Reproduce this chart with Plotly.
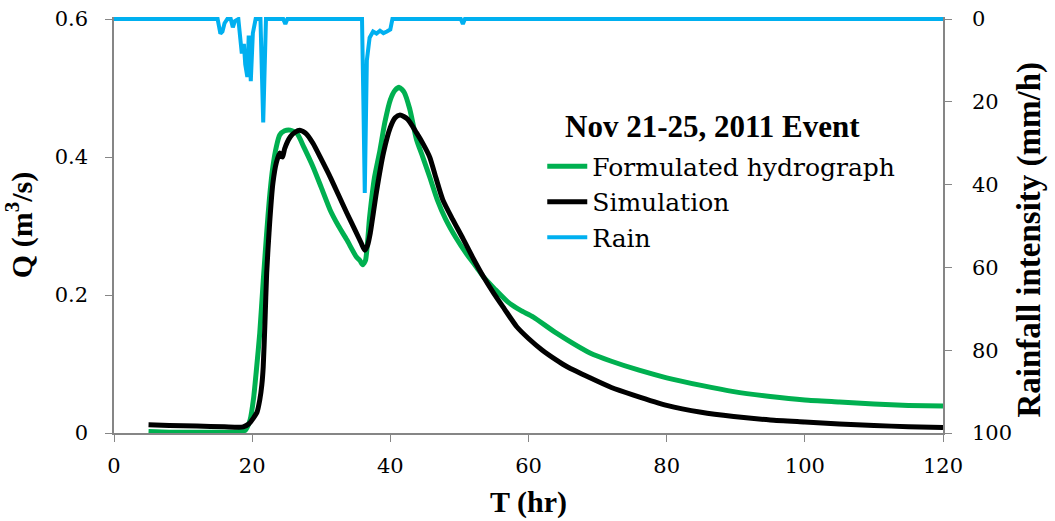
import plotly.graph_objects as go

# ---- data ----
t_sim = [5, 8, 12, 16, 18, 18.7, 19.5, 20.2, 20.7, 21.1, 21.4, 21.6, 21.85, 22.1, 22.5, 23.0, 23.5, 24.0, 24.4, 24.7, 25.5, 26.2, 26.9, 27.8, 28.8, 30.0, 31.3, 32.5, 33.7, 35.0, 35.8, 36.3, 36.7, 37.1, 38.0, 39.0, 40.0, 40.7, 41.4, 42.5, 43.8, 44.8, 45.7, 46.6, 47.6, 49.0, 50.5, 52.0, 53.5, 55.0, 56.5, 58.3, 60.0, 62.0, 64.0, 65.6, 68.9, 72.0, 75.2, 80.0, 85.0, 89.7, 95.0, 100.0, 105.0, 110.0, 115.0, 120.0]
q_sim = [0.012, 0.011, 0.010, 0.009, 0.0085, 0.009, 0.013, 0.022, 0.030, 0.048, 0.070, 0.096, 0.160, 0.232, 0.300, 0.362, 0.392, 0.406, 0.400, 0.412, 0.429, 0.436, 0.439, 0.434, 0.420, 0.397, 0.371, 0.345, 0.319, 0.292, 0.275, 0.265, 0.272, 0.290, 0.350, 0.406, 0.443, 0.457, 0.461, 0.455, 0.435, 0.418, 0.400, 0.370, 0.338, 0.310, 0.282, 0.253, 0.226, 0.202, 0.180, 0.154, 0.137, 0.120, 0.106, 0.096, 0.080, 0.066, 0.055, 0.040, 0.030, 0.024, 0.019, 0.016, 0.013, 0.011, 0.009, 0.008]

t_obs = [5, 8, 12, 16, 18, 19.0, 19.7, 20.2, 20.6, 21.1, 21.6, 22.1, 22.5, 23.0, 23.5, 24.0, 24.7, 25.5, 26.5, 27.5, 28.8, 30.0, 31.3, 32.5, 33.7, 35.1, 35.6, 36.0, 36.4, 37.0, 37.7, 38.5, 39.2, 40.0, 40.7, 41.3, 42.0, 42.8, 43.8, 44.7, 45.7, 46.8, 48.0, 49.5, 51.0, 52.5, 53.5, 55.0, 57.0, 58.8, 60.7, 64.0, 68.9, 72.0, 76.0, 80.0, 85.0, 89.7, 95.0, 100.0, 105.0, 110.0, 115.0, 120.0]
q_obs = [0.002, 0.001, 0.001, 0.001, 0.002, 0.004, 0.019, 0.050, 0.090, 0.145, 0.220, 0.290, 0.340, 0.386, 0.415, 0.432, 0.438, 0.439, 0.434, 0.414, 0.386, 0.356, 0.323, 0.300, 0.280, 0.255, 0.250, 0.244, 0.250, 0.313, 0.370, 0.410, 0.450, 0.483, 0.497, 0.501, 0.494, 0.470, 0.425, 0.400, 0.371, 0.338, 0.310, 0.283, 0.260, 0.240, 0.226, 0.210, 0.190, 0.178, 0.168, 0.145, 0.116, 0.104, 0.091, 0.080, 0.069, 0.060, 0.053, 0.048, 0.045, 0.042, 0.040, 0.039]

t_rain = [0, 15.0, 15.4, 15.7, 16.0, 16.4, 16.9, 17.2, 17.5, 18.0, 18.3, 18.5, 18.8, 19.0, 19.3, 19.5, 19.8, 20.1, 20.5, 21.2, 21.6, 22.0, 24.5, 24.8, 25.1, 35.9, 36.1, 36.3, 36.6, 37.0, 37.5, 38.0, 38.5, 39.0, 39.5, 40.0, 40.3, 50.2, 50.5, 50.8, 120]
r_rain = [0, 0, 3.5, 3.0, 1.0, 0, 0, 2.0, 0.5, 0, 5.0, 8.3, 6.0, 11.0, 14.0, 4.0, 15.0, 3.4, 0, 0, 25.0, 0, 0, 1.2, 0, 0, 20.0, 42.0, 10.0, 4.5, 3.0, 3.5, 2.8, 3.4, 3.0, 2.5, 0, 0, 1.2, 0, 0]

x_ticks = [0, 20, 40, 60, 80, 100, 120]
q_ticks = [0, 0.2, 0.4, 0.6]
q_tick_text = ["0", "0.2", "0.4", "0.6"]
r_ticks = [0, 20, 40, 60, 80, 100]
legend_title = "Nov 21-25, 2011 Event"
rain_axis_title = "Rainfall intensity (mm/h)"

AXIS_GREY = "#868686"
REG = "DejaVu Serif"          # regular serif that is available
BOLD = "Liberation Serif"     # bold Times-like face

fig = go.Figure()
fig.add_trace(go.Scatter(x=t_obs, y=q_obs, mode="lines", name="Formulated hydrograph",
                         line=dict(color="#00B050", width=5, shape="spline", smoothing=0.6), yaxis="y"))
fig.add_trace(go.Scatter(x=t_sim, y=q_sim, mode="lines", name="Simulation",
                         line=dict(color="#000000", width=5, shape="spline", smoothing=0.6), yaxis="y"))
fig.add_trace(go.Scatter(x=t_rain, y=r_rain, mode="lines", name="Rain",
                         line=dict(color="#00B0F0", width=4), yaxis="y2"))

fig.update_layout(
    width=1055, height=521,
    margin=dict(l=114, r=112, t=17, b=88, pad=0),
    paper_bgcolor="white", plot_bgcolor="white",
    font=dict(family=REG, color="black", size=21),
    showlegend=True,
    legend=dict(
        x=0.5166, y=0.696, xanchor="left", yanchor="top",
        bgcolor="rgba(0,0,0,0)", borderwidth=0,
        font=dict(family=REG, size=25, color="black"),
        itemwidth=40, tracegroupgap=0,
    ),
    annotations=[
        dict(text="<b>" + legend_title + "</b>", xref="paper", yref="paper",
             x=0.7214, y=0.7356, xanchor="center", yanchor="middle", showarrow=False,
             font=dict(family=BOLD, size=31, color="black")),
        dict(text="<b>" + rain_axis_title + "</b>", xref="paper", yref="paper",
             x=1.105, y=0.465, xanchor="center", yanchor="middle", showarrow=False,
             textangle=-90, font=dict(family=BOLD, size=33, color="black")),
    ],
    xaxis=dict(
        range=[0, 120], tickvals=x_ticks, ticks="outside", ticklen=7, tickcolor=AXIS_GREY,
        showline=True, linecolor=AXIS_GREY, linewidth=1.5, showgrid=False, zeroline=False,
        tickfont=dict(family=REG, size=21, color="black"), ticklabelstandoff=6,
        title=dict(text="<b>T (hr)</b>", font=dict(family=BOLD, size=30, color="black"), standoff=14),
        automargin=False,
    ),
    yaxis=dict(
        range=[0, 0.603], tickvals=q_ticks, ticktext=q_tick_text, ticks="outside", ticklen=7,
        tickcolor=AXIS_GREY, showline=True, linecolor=AXIS_GREY, linewidth=1.5,
        showgrid=False, zeroline=False,
        tickfont=dict(family=REG, size=21, color="black"), ticklabelstandoff=13,
        title=dict(text="<b>Q (m<sup>3</sup>/s)</b>", font=dict(family=BOLD, size=30, color="black"), standoff=17),
        automargin=False,
    ),
    yaxis2=dict(
        range=[100, -0.5], tickvals=r_ticks, overlaying="y", side="right", anchor="x",
        ticks="outside", ticklen=7, tickcolor=AXIS_GREY, showline=True, linecolor=AXIS_GREY,
        linewidth=1.5, showgrid=False, zeroline=False,
        tickfont=dict(family=REG, size=21, color="black"), ticklabelstandoff=16,
        automargin=False,
    ),
)

fig.write_html("out.html")
